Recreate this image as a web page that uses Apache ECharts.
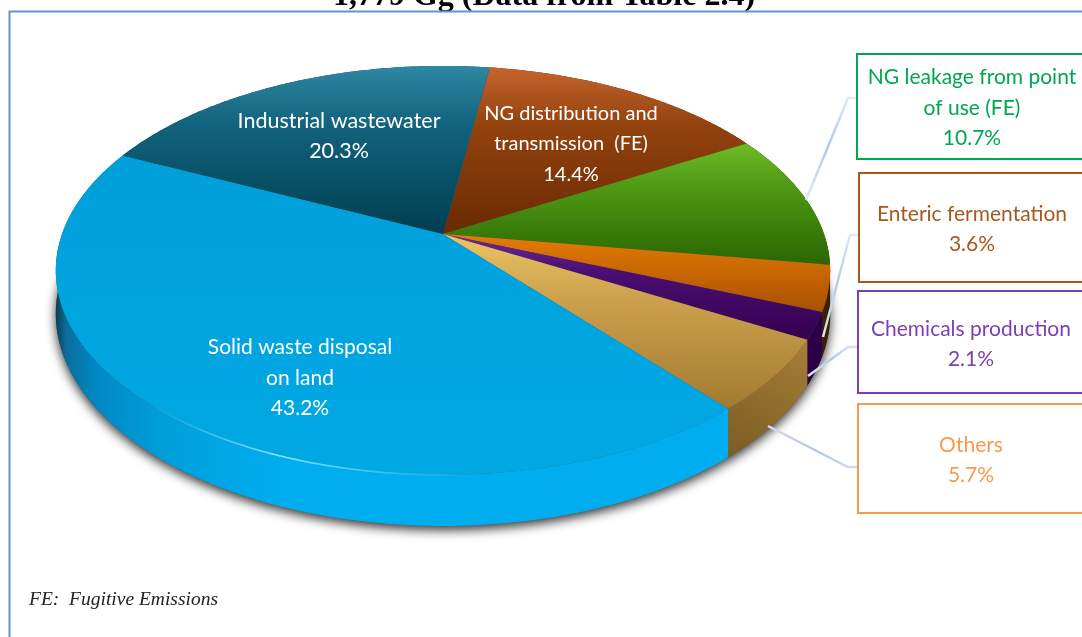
<!DOCTYPE html>
<html>
<head>
<meta charset="utf-8">
<title>Methane emissions by source</title>
<style>html,body{margin:0;padding:0;background:#fff}#chart{width:1082px;height:637px}</style>
<script src="https://cdn.jsdelivr.net/npm/echarts@6/dist/echarts.min.js"></script>
</head>
<body>
<div id="chart"></div>
<script>
// Sectors run clockwise, starting at the NG distribution slice.
const categories = [
  'NG distribution and\ntransmission  (FE)',
  'NG leakage from point\nof use (FE)',
  'Enteric fermentation',
  'Chemicals production',
  'Others',
  'Solid waste disposal\non land',
  'Industrial wastewater'
];
const shares = [14.4, 10.7, 3.6, 2.1, 5.7, 43.2, 20.3];
const titleText = '1,779 Gg (Data from Table 2.4)';
const footnote = 'FE:  Fugitive Emissions';

// Perspective view of the tilted disc.
const view = { cx: 443, cy: 234, a: 381, b: 198, k: 0.178, depth: 42, startDeg: 8.3 };

const topFills = [
  ['#c4642c', '#93420e', '#6a2a02'],
  ['#6fbc26', '#4f9a14', '#2a6602'],
  ['#e47c06', '#d06c02', '#a85002'],
  ['#6c2a94', '#4a0f72', '#35004f'],
  ['#ecc566', '#cfa24e', '#a27a30'],
  ['#009fd9', '#00a3de', '#00a8e4'],
  ['#2f87a3', '#12637d', '#003e50']
];
const rimFills = ['#4a1c00', '#1c3e00', '#3c1e00', '#2a0046', '#8d6a2a', '#00aeef', '#003e50'];
const sliceText = [
  { x: 571, y: 144, size: 20 }, null, null, null, null,
  { x: 300, y: 378, size: 21 },
  { x: 339, y: 136, size: 21.5 }
];
const callouts = [
  { slice: 1, box: [857, 54, 300, 105], color: '#00a651', textX: 972, textY: 108, line: [[806, 200], [848, 98], [857, 98]] },
  { slice: 2, box: [859, 173, 300, 109], color: '#a5591f', textX: 972, textY: 229, line: [[823, 337], [850, 235], [859, 235]] },
  { slice: 3, box: [858, 291, 300, 102], color: '#7b3fb0', textX: 971, textY: 344, line: [[808, 376], [848, 347], [858, 347]] },
  { slice: 4, box: [858, 404, 300, 109], color: '#f79a4b', textX: 971, textY: 460, line: [[768, 426], [848, 467], [858, 467]] }
];
const bodyFamily = 'Lato, "Open Sans", sans-serif';

function project(deg, drop) {
  const t = deg * Math.PI / 180;
  const u = Math.sin(t), v = -Math.cos(t);
  const s = 1 / (1 - view.k * v);
  return [view.cx + view.a * u * s, view.cy + view.b * v * s + (drop ? view.depth * s : 0)];
}
function arc(from, to, drop) {
  const pts = [];
  const n = Math.max(2, Math.ceil(Math.abs(to - from) * 2));
  for (let i = 0; i <= n; i++) pts.push(project(from + (to - from) * i / n, drop));
  return pts;
}
function sliceRange(i) {
  let start = view.startDeg;
  for (let j = 0; j < i; j++) start += shares[j] * 3.6;
  return [start, start + shares[i] * 3.6];
}

const seriesBase = {
  type: 'custom',
  coordinateSystem: 'none',
  silent: true,
  animation: false
};

const option = {
  animation: false,
  backgroundColor: '#fff',
  graphic: [
    { type: 'text', silent: true, x: 544, y: 13, z: 1, style: { text: titleText, fill: '#000', font: 'bold 32px "Liberation Serif", serif', align: 'center', verticalAlign: 'bottom' } },
    { type: 'rect', silent: true, z: 1, shape: { x: 9.5, y: 11.5, width: 1120, height: 660 }, style: { fill: 'none', stroke: '#6a90ca', lineWidth: 2 } },
    { type: 'text', silent: true, z: 1, x: 29, y: 600, style: { text: footnote, fill: '#222', font: 'italic 19.5px "Liberation Serif", serif', align: 'left', verticalAlign: 'middle' } }
  ],
  series: [
    // Soft shadow cast by the underside of the disc.
    Object.assign({}, seriesBase, {
      z: 2,
      data: [[0]],
      renderItem() {
        return {
          type: 'polygon',
          shape: { points: arc(0, 360, true) },
          style: { fill: '#555', shadowColor: 'rgba(0,0,0,0.8)', shadowBlur: 11, shadowOffsetX: 0, shadowOffsetY: 4 }
        };
      }
    }),
    // Outer wall of each sector.
    Object.assign({}, seriesBase, {
      z: 3,
      data: shares.map(v => [v]),
      renderItem(params) {
        const i = params.dataIndex;
        const [from, to] = sliceRange(i);
        const points = arc(from, to, false).concat(arc(to, from, true));
        let fill = rimFills[i];
        if (i === 5) {
          fill = new echarts.graphic.LinearGradient(0, 0, 1, 0, [
            { offset: 0, color: '#0a3d57' }, { offset: 0.015, color: '#0a6d9c' },
            { offset: 0.06, color: '#0088c4' }, { offset: 0.16, color: '#009fdc' },
            { offset: 0.35, color: '#00aeef' }, { offset: 1, color: '#00aeef' }
          ]);
        } else if (i === 4) {
          fill = new echarts.graphic.LinearGradient(1, 0, 0, 1, [
            { offset: 0, color: '#a67f35' }, { offset: 1, color: '#7c5c24' }
          ]);
        }
        return { type: 'polygon', shape: { points }, style: { fill } };
      }
    }),
    // Top face of each sector and the labels printed on it.
    Object.assign({}, seriesBase, {
      z: 4,
      data: shares.map(v => [v]),
      renderItem(params, api) {
        const i = params.dataIndex;
        const [from, to] = sliceRange(i);
        const points = [[view.cx, view.cy]].concat(arc(from, to, false));
        const children = [{
          type: 'polygon',
          shape: { points },
          style: {
            fill: new echarts.graphic.LinearGradient(0, 0, 0, 1, [
              { offset: 0, color: topFills[i][0] },
              { offset: 0.35, color: topFills[i][1] },
              { offset: 1, color: topFills[i][2] }
            ])
          }
        }];
        if (sliceText[i]) {
          children.push({
            type: 'text',
            z2: 5,
            style: {
              text: categories[i] + '\n' + api.value(0).toFixed(1) + '%',
              x: sliceText[i].x, y: sliceText[i].y,
              fill: '#fff', font: sliceText[i].size + 'px ' + bodyFamily, lineHeight: 30.5,
              align: 'center', verticalAlign: 'middle'
            }
          });
        }
        return { type: 'group', children };
      }
    }),
    // Glint along the front edge of the largest sector.
    Object.assign({}, seriesBase, {
      z: 5,
      data: [[0]],
      renderItem() {
        return {
          type: 'polyline',
          shape: { points: arc(222, 176, false) },
          style: {
            fill: 'none', lineWidth: 1.6,
            stroke: new echarts.graphic.LinearGradient(0, 0, 1, 0, [
              { offset: 0, color: 'rgba(140,225,255,0)' },
              { offset: 0.4, color: 'rgba(140,230,255,0.95)' },
              { offset: 1, color: 'rgba(140,225,255,0)' }
            ])
          }
        };
      }
    }),
    // Callout boxes and their leader lines.
    Object.assign({}, seriesBase, {
      z: 6,
      data: callouts.map(c => [shares[c.slice]]),
      renderItem(params, api) {
        const c = callouts[params.dataIndex];
        return {
          type: 'group',
          children: [
            {
              type: 'polyline',
              shape: { points: c.line },
              style: {
                fill: 'none', lineWidth: 2.4,
                stroke: new echarts.graphic.LinearGradient(0, 1, 1, 0, [
                  { offset: 0, color: '#e4ecf6' }, { offset: 0.5, color: '#b4c8e2' }, { offset: 1, color: '#e4ecf6' }
                ])
              }
            },
            {
              type: 'rect',
              shape: { x: c.box[0], y: c.box[1], width: c.box[2], height: c.box[3] },
              style: { fill: '#fff', stroke: c.color, lineWidth: 2 }
            },
            {
              type: 'text',
              style: {
                text: categories[c.slice] + '\n' + api.value(0).toFixed(1) + '%',
                x: c.textX, y: c.textY,
                fill: c.color, font: '21px ' + bodyFamily, lineHeight: 30.5,
                align: 'center', verticalAlign: 'middle'
              }
            }
          ]
        };
      }
    })
  ]
};

echarts.init(document.getElementById('chart'), null, { renderer: 'canvas' }).setOption(option);
</script>
</body>
</html>
